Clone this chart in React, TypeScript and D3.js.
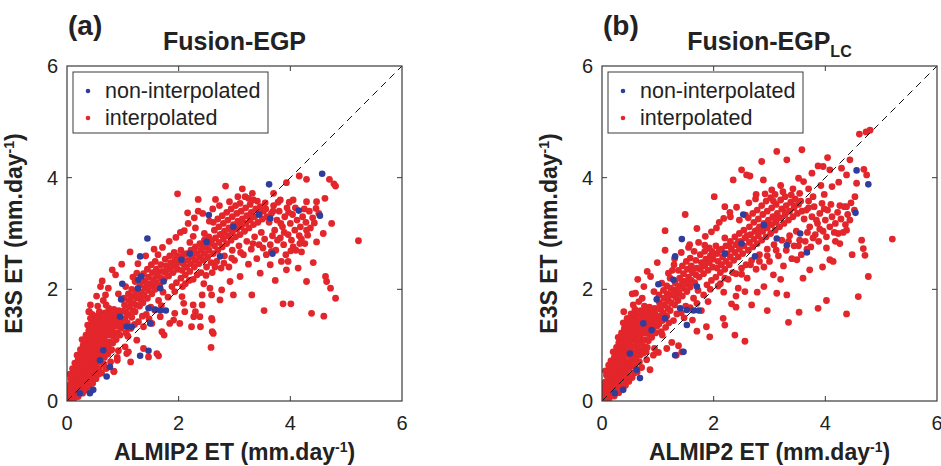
import React from "react";
import * as d3 from "d3";

type P = [number, number];

const ticks = [0, 2, 4, 6];
const innerTicks = [2, 4];
const titles = ["Fusion-EGP", "Fusion-EGP"];
const titleSubs = ["", "LC"];
const panelLabels = ["(a)", "(b)"];
const legendLabels = ["non-interpolated", "interpolated"];
const xLabel = "ALMIP2 ET (mm.day";
const yLabel = "E3S ET (mm.day";

const redA: P[] = [
  [0.02,0.03],[0.04,0.08],[0.05,0.15],[0.03,0.22],[0.06,0.30],[0.08,0.05],[0.10,0.12],[0.09,0.20],[0.11,0.28],[0.12,0.36],[0.07,0.40],[0.05,0.48],[0.14,0.08],[0.15,0.18],[0.16,0.26],[0.18,0.34],[0.15,0.44],[0.13,0.52],[0.10,0.58],[0.19,0.12],[0.20,0.22],[0.22,0.30],[0.21,0.40],[0.19,0.50],[0.17,0.60],[0.14,0.68],[0.24,0.16],[0.26,0.26],[0.25,0.36],[0.27,0.46],[0.24,0.56],[0.22,0.66],[0.20,0.74],[0.18,0.82],[0.29,0.20],[0.31,0.32],[0.30,0.42],[0.32,0.52],[0.30,0.62],[0.28,0.72],[0.26,0.82],[0.24,0.92],[0.35,0.28],[0.36,0.40],[0.38,0.50],[0.36,0.60],[0.35,0.70],[0.33,0.80],[0.31,0.90],[0.29,1.00],[0.27,1.10],[0.41,0.36],[0.42,0.48],[0.44,0.58],[0.42,0.68],[0.40,0.78],[0.39,0.88],[0.37,0.98],[0.35,1.08],[0.34,1.18],[0.46,0.44],[0.48,0.56],[0.47,0.66],[0.49,0.76],[0.46,0.86],[0.45,0.96],[0.43,1.06],[0.41,1.16],[0.39,1.26],[0.37,1.36],
  [0.12,0.04],[0.20,0.08],[0.28,0.14],[0.34,0.20],[0.40,0.26],[0.46,0.32],[0.52,0.40],[0.56,0.48],
  [0.52,0.62],[0.54,0.72],[0.55,0.84],[0.53,0.94],[0.51,1.04],[0.50,1.14],[0.48,1.24],[0.46,1.34],[0.44,1.44],[0.58,0.58],[0.60,0.70],[0.61,0.80],[0.62,0.92],[0.60,1.02],[0.58,1.12],[0.57,1.22],[0.55,1.32],[0.53,1.42],[0.51,1.52],[0.66,0.66],[0.67,0.78],[0.68,0.88],[0.69,1.00],[0.67,1.10],[0.66,1.20],[0.64,1.30],[0.62,1.40],[0.60,1.50],[0.58,1.60],[0.73,0.84],[0.74,0.96],[0.76,1.06],[0.75,1.18],[0.73,1.28],[0.71,1.38],[0.70,1.48],[0.68,1.58],[0.80,0.92],[0.82,1.04],[0.83,1.16],[0.81,1.26],[0.80,1.36],[0.78,1.46],[0.77,1.56],[0.75,1.66],[0.88,1.10],[0.90,1.22],[0.89,1.34],[0.87,1.44],[0.86,1.54],[0.84,1.64],[0.95,1.18],[0.97,1.30],[0.96,1.42],[0.94,1.52],[0.93,1.62],[0.40,1.60],[0.42,1.72],[0.45,1.55],[0.60,2.05],[0.69,1.90],[0.39,1.60],[0.42,1.48],[0.81,2.35],[0.87,2.26],[0.70,1.72],[0.65,1.80],[0.55,1.70],
  [0.62,0.50],[0.70,0.58],[0.78,0.70],[0.84,0.53],[0.90,0.78],[0.78,0.91],[0.92,0.90],
  [1.02,1.35],[1.04,1.48],[1.05,1.60],[1.03,1.72],[1.02,1.84],[1.08,1.40],[1.10,1.55],[1.12,1.68],[1.11,1.80],[1.10,1.92],[1.16,1.50],[1.18,1.62],[1.19,1.75],[1.17,1.88],[1.16,2.00],[1.22,1.60],[1.24,1.72],[1.25,1.85],[1.23,1.97],[1.25,2.29],[1.22,2.14],[1.30,1.70],[1.32,1.82],[1.33,1.95],[1.31,2.08],[1.36,1.76],[1.38,1.90],[1.40,2.02],[1.39,2.15],[1.37,2.28],[1.44,1.84],[1.46,1.98],[1.48,2.10],[1.46,2.22],[1.44,2.36],[1.52,1.92],[1.54,2.06],[1.55,2.18],[1.53,2.30],[1.51,2.44],[1.58,2.00],[1.60,2.12],[1.62,2.24],[1.60,2.36],[1.58,2.50],[1.66,2.08],[1.68,2.20],[1.70,2.32],[1.68,2.44],[1.74,2.18],[1.76,2.30],[1.78,2.42],[1.76,2.54],[1.82,2.24],[1.84,2.36],[1.86,2.48],[1.84,2.60],[1.90,2.30],[1.92,2.42],[1.94,2.54],[1.92,2.66],[1.98,2.36],[1.99,2.48],[1.97,2.60],[1.13,2.67],[1.06,1.22],[1.14,1.30],[1.28,1.42],[1.42,1.55],[1.50,1.68],[1.64,1.80],[1.72,1.95],[1.88,2.05],[1.96,2.12],
  [2.04,2.20],[2.06,2.34],[2.08,2.46],[2.06,2.58],[2.04,2.70],[2.12,2.26],[2.14,2.40],[2.16,2.52],[2.14,2.64],[2.20,2.32],[2.22,2.46],[2.24,2.58],[2.22,2.70],[2.20,2.84],[2.28,2.40],[2.30,2.52],[2.32,2.64],[2.30,2.76],[2.36,2.46],[2.38,2.58],[2.40,2.70],[2.38,2.82],[2.44,2.52],[2.46,2.64],[2.48,2.76],[2.46,2.88],[2.52,2.58],[2.54,2.70],[2.56,2.82],[2.54,2.94],[2.12,2.10],[2.26,2.18],[2.40,2.30],[2.50,2.40],[2.16,3.37],[2.35,3.40],[2.10,3.05],[2.30,3.10],[2.46,3.00],[2.26,2.95],[2.58,2.48],[2.60,2.30],[2.45,2.10],[2.56,2.02],[2.42,1.90],
  [2.62,2.64],[2.64,2.78],[2.66,2.92],[2.64,3.06],[2.62,3.20],[2.70,2.70],[2.72,2.84],[2.74,2.98],[2.72,3.12],[2.70,3.26],[2.78,2.76],[2.80,2.90],[2.82,3.04],[2.80,3.18],[2.78,3.32],[2.86,2.82],[2.88,2.96],[2.90,3.10],[2.88,3.24],[2.86,3.38],[2.94,2.88],[2.96,3.02],[2.98,3.16],[2.96,3.30],[2.94,3.44],[3.02,2.94],[3.04,3.08],[3.06,3.22],[3.04,3.36],[3.02,3.50],[3.10,2.98],[3.12,3.12],[3.14,3.26],[3.12,3.40],[3.10,3.54],[3.18,3.04],[3.20,3.18],[3.22,3.32],[3.20,3.46],[3.26,3.10],[3.28,3.24],[3.30,3.38],[3.28,3.52],[3.34,3.16],[3.36,3.30],[3.38,3.44],[3.42,3.20],[3.44,3.34],[3.46,3.48],[3.50,3.26],[3.52,3.40],[3.58,3.30],[3.56,3.44],[2.68,2.50],[2.82,2.60],[2.96,2.70],[3.08,2.78],[3.22,2.86],[3.36,2.94],[3.48,3.02],[2.76,2.38],[3.00,2.52],[3.16,2.62],[3.30,2.72],[3.44,2.80],[3.54,2.90],[2.90,2.40],[3.40,2.55],[3.25,2.45],[3.57,2.62],
  [3.62,3.20],[3.66,3.36],[3.70,3.50],[3.72,3.06],[3.76,3.24],[3.80,3.40],[3.82,2.92],[3.86,3.12],[3.90,3.30],[3.94,3.46],[3.96,2.98],[4.00,3.18],[4.04,3.34],[4.08,3.06],[4.12,3.24],[4.18,3.12],[4.22,3.30],[4.28,3.20],[4.34,3.40],[4.40,3.28],[3.64,2.80],[3.74,2.70],[3.88,2.80],[4.02,2.88],[3.68,2.96],[4.16,2.96],[3.78,3.56],[3.98,3.56],[4.36,3.10],[4.46,3.45],[3.92,2.62],[4.10,2.70],[3.84,2.50],[4.20,2.90],
  [4.16,4.03],[4.29,3.97],[4.70,3.97],[4.78,3.89],[4.81,3.85],[3.93,3.91],[2.84,3.85],[3.14,3.80],[3.32,3.72],[3.19,3.66],[3.34,3.60],[1.98,3.71],[2.35,3.61],[2.66,3.61],[3.70,3.72],[3.82,3.60],[4.05,3.60],[4.29,3.57],[4.47,3.57],[4.62,3.63],
  [5.22,2.87],[4.63,2.23],[4.65,2.14],[4.72,2.02],[4.81,1.84],[4.29,2.14],[3.73,2.16],[3.53,1.62],[3.87,1.74],[4.01,1.74],[4.38,1.57],[4.60,1.52],[3.31,1.90],[3.93,2.35],[4.14,2.38],[4.41,2.48],[4.20,2.67],[4.26,2.82],[4.05,2.76],[4.47,2.85],[4.59,3.00],[4.74,3.18],[4.29,3.06],[3.96,2.50],[3.64,2.44],[3.46,2.29],[3.10,2.23],[2.92,2.14],[2.77,1.99],[2.98,1.90],[2.59,1.90],[2.74,1.81],[2.26,1.72],[2.11,1.60],[2.59,1.48],[2.38,1.51],[2.23,1.33],[2.02,1.39],[2.62,1.21],[2.58,0.96],[1.84,1.39],[1.93,1.57],[1.67,1.51],[1.74,1.18],[1.64,0.81],[1.14,0.70],[1.37,1.33],[1.52,1.39],[1.25,1.09],[1.07,0.85],[1.04,0.97],[1.37,0.94],[1.61,0.85],[1.46,0.79],[1.70,1.24],[1.91,1.45],[2.06,1.87],[2.09,1.75],[2.27,1.51],[2.30,1.60],[2.39,1.33],[2.60,1.45],[2.60,1.24],[2.42,1.72],[0.84,0.53],[1.10,0.88],[0.90,0.73],[0.78,0.91],
  [1.05,2.05],[1.18,2.22],[1.27,2.46],[1.41,2.60],[1.56,2.72],[1.63,2.62],[1.71,2.75],[1.83,2.86],[1.95,2.93],[2.03,3.02],[2.17,3.18],[2.28,3.28],[2.43,3.36],[2.55,3.22],[2.61,3.44],[2.73,3.50],[2.91,3.57],[3.06,3.66],[3.25,3.63],[3.41,3.58],[3.55,3.55],[1.09,1.16],[1.21,1.37],[1.35,1.52],[1.47,1.47],[1.57,1.63],[1.69,1.71],[1.81,1.86],[1.93,1.96],[2.07,2.05],[2.19,2.16],[2.33,2.26],[2.49,2.25],[2.65,2.40],[2.81,2.47],[2.95,2.56],[3.11,2.66],[3.33,2.82],[3.51,2.74],[3.66,2.68],[3.77,2.88],[3.89,3.02],[4.01,2.69],[4.17,2.82],[4.31,2.97],[4.43,3.19],[4.51,3.36],[3.69,3.40],[3.83,3.18],[3.97,3.38],[4.09,3.46],[4.25,3.44],[1.01,1.61],[1.14,1.79],[1.27,1.87],[1.43,2.09],[1.61,2.29],[1.79,2.39],[1.97,2.51],[2.09,2.63],[2.27,2.71],[2.43,2.77],[2.59,2.87],[2.77,2.99],[2.93,3.07],[3.09,3.17],[3.27,3.29],[3.43,3.41],[0.53,1.88],[0.63,2.15],[0.74,2.02],[0.92,1.92],[0.98,2.45],[0.77,1.28],[0.64,1.12]
];

const blueA: P[] = [
  [4.57,4.07],[3.62,3.88],[2.54,3.33],[3.44,3.34],[3.64,3.27],[4.15,3.41],[4.53,3.32],[3.68,2.64],[2.98,3.12],[2.74,2.59],[2.50,2.85],[2.20,2.64],[2.05,2.53],[1.44,2.91],[1.31,2.59],[1.33,2.23],[1.28,2.17],[0.99,2.10],[0.97,1.82],[1.27,2.02],[1.67,2.02],[1.73,2.14],[1.46,1.66],[1.58,1.64],[1.67,1.62],[1.77,1.62],[0.95,1.51],[1.07,1.33],[1.16,1.33],[1.31,0.81],[1.46,0.90],[1.49,1.39],[0.77,0.61],[0.71,0.44],[0.59,0.73],[0.47,0.20],[0.41,0.14],[0.23,0.14],[0.65,0.91]
];

const redB: P[] = [
  [0.02,0.04],[0.04,0.10],[0.03,0.18],[0.05,0.26],[0.06,0.34],[0.09,0.06],[0.10,0.14],[0.11,0.22],[0.10,0.31],[0.12,0.40],[0.08,0.46],[0.06,0.54],[0.15,0.10],[0.16,0.20],[0.17,0.29],[0.18,0.38],[0.16,0.47],[0.14,0.56],[0.12,0.64],[0.21,0.14],[0.22,0.24],[0.23,0.33],[0.22,0.43],[0.20,0.53],[0.18,0.63],[0.16,0.72],[0.26,0.18],[0.27,0.28],[0.26,0.38],[0.28,0.48],[0.26,0.58],[0.24,0.68],[0.22,0.78],[0.20,0.88],[0.31,0.22],[0.32,0.34],[0.31,0.45],[0.33,0.55],[0.31,0.65],[0.29,0.75],[0.28,0.86],[0.26,0.96],[0.36,0.30],[0.37,0.42],[0.39,0.52],[0.37,0.62],[0.36,0.73],[0.34,0.84],[0.32,0.94],[0.30,1.04],[0.29,1.14],[0.42,0.38],[0.43,0.50],[0.45,0.60],[0.43,0.70],[0.41,0.81],[0.40,0.92],[0.38,1.02],[0.36,1.12],[0.35,1.22],[0.47,0.46],[0.49,0.58],[0.48,0.69],[0.50,0.80],[0.47,0.90],[0.46,1.00],[0.44,1.10],[0.42,1.20],[0.40,1.30],[0.38,1.40],[0.13,0.05],[0.22,0.09],[0.30,0.15],[0.36,0.22],[0.42,0.28],[0.48,0.35],[0.54,0.42],[0.58,0.50],
  [0.53,0.64],[0.55,0.75],[0.56,0.86],[0.54,0.97],[0.52,1.08],[0.51,1.18],[0.49,1.28],[0.47,1.38],[0.45,1.48],[0.59,0.62],[0.61,0.73],[0.62,0.84],[0.63,0.95],[0.61,1.06],[0.59,1.16],[0.58,1.26],[0.56,1.36],[0.54,1.46],[0.52,1.56],[0.67,0.70],[0.68,0.82],[0.69,0.92],[0.70,1.04],[0.68,1.14],[0.67,1.24],[0.65,1.34],[0.63,1.44],[0.61,1.54],[0.59,1.64],[0.74,0.86],[0.75,0.98],[0.77,1.10],[0.76,1.22],[0.74,1.32],[0.72,1.42],[0.71,1.52],[0.69,1.62],[0.81,0.96],[0.83,1.08],[0.84,1.20],[0.82,1.30],[0.81,1.40],[0.79,1.50],[0.78,1.60],[0.76,1.70],[0.89,1.14],[0.91,1.26],[0.90,1.38],[0.88,1.48],[0.87,1.58],[0.85,1.68],[0.96,1.22],[0.98,1.34],[0.97,1.46],[0.95,1.56],[0.94,1.66],[0.39,1.60],[0.36,1.12],[0.60,1.93],[0.81,2.32],[0.87,2.23],[0.66,1.78],[0.72,1.84],[0.56,1.72],[0.63,0.52],[0.71,0.60],[0.80,0.74],[0.86,0.56],[0.92,0.82],[0.79,0.88],[0.94,0.94],
  [1.02,1.38],[1.04,1.52],[1.05,1.64],[1.03,1.76],[1.02,1.90],[1.08,1.44],[1.10,1.58],[1.12,1.72],[1.11,1.84],[1.10,1.98],[1.16,1.52],[1.18,1.66],[1.19,1.80],[1.17,1.92],[1.16,2.06],[1.22,1.62],[1.24,1.76],[1.25,1.90],[1.23,2.02],[1.26,2.34],[1.22,2.20],[1.30,1.72],[1.32,1.86],[1.33,2.00],[1.31,2.12],[1.36,1.80],[1.38,1.94],[1.40,2.06],[1.39,2.20],[1.37,2.34],[1.44,1.88],[1.46,2.02],[1.48,2.14],[1.46,2.28],[1.44,2.42],[1.52,1.96],[1.54,2.10],[1.55,2.22],[1.53,2.36],[1.51,2.50],[1.58,2.04],[1.60,2.16],[1.62,2.30],[1.60,2.42],[1.58,2.56],[1.66,2.12],[1.68,2.26],[1.70,2.38],[1.68,2.52],[1.74,2.22],[1.76,2.36],[1.78,2.48],[1.76,2.62],[1.82,2.28],[1.84,2.42],[1.86,2.54],[1.84,2.68],[1.90,2.34],[1.92,2.48],[1.94,2.60],[1.92,2.74],[1.98,2.40],[1.99,2.54],[1.97,2.68],[1.13,2.70],[1.06,1.24],[1.14,1.32],[1.28,1.44],[1.42,1.58],[1.50,1.70],[1.64,1.84],[1.72,1.98],[1.88,2.08],[1.96,2.16],[1.49,3.34],[1.13,3.05],[1.70,3.09],[1.84,2.79],[1.30,2.55],[1.55,2.75],[1.62,1.45],[1.78,1.62],[1.90,1.78],[1.70,1.25],[1.25,1.05],
  [2.04,2.22],[2.06,2.38],[2.08,2.50],[2.06,2.64],[2.04,2.78],[2.12,2.30],[2.14,2.44],[2.16,2.58],[2.14,2.72],[2.20,2.36],[2.22,2.50],[2.24,2.64],[2.22,2.78],[2.20,2.92],[2.28,2.44],[2.30,2.58],[2.32,2.72],[2.30,2.86],[2.36,2.52],[2.38,2.66],[2.40,2.80],[2.38,2.94],[2.44,2.58],[2.46,2.72],[2.48,2.86],[2.46,3.00],[2.52,2.64],[2.54,2.78],[2.56,2.92],[2.54,3.06],[2.12,2.10],[2.26,2.18],[2.40,2.28],[2.50,2.38],[2.01,3.66],[2.35,3.96],[2.50,4.14],[2.59,4.05],[2.10,3.20],[2.30,3.30],[2.46,3.24],[2.20,3.48],[2.58,2.44],[2.60,2.20],[2.44,2.02],[2.56,1.96],[2.40,1.88],[2.18,1.95],[2.32,1.74],
  [2.62,2.70],[2.64,2.84],[2.66,2.98],[2.64,3.12],[2.62,3.28],[2.70,2.76],[2.72,2.90],[2.74,3.04],[2.72,3.20],[2.70,3.36],[2.78,2.82],[2.80,2.96],[2.82,3.12],[2.80,3.26],[2.78,3.42],[2.86,2.88],[2.88,3.04],[2.90,3.18],[2.88,3.34],[2.86,3.50],[2.94,2.94],[2.96,3.10],[2.98,3.24],[2.96,3.40],[2.94,3.58],[3.02,3.00],[3.04,3.16],[3.06,3.30],[3.04,3.46],[3.02,3.64],[3.10,3.06],[3.12,3.20],[3.14,3.36],[3.12,3.52],[3.10,3.70],[3.18,3.12],[3.20,3.28],[3.22,3.44],[3.20,3.60],[3.26,3.18],[3.28,3.34],[3.30,3.50],[3.28,3.66],[3.34,3.24],[3.36,3.40],[3.38,3.56],[3.42,3.30],[3.44,3.46],[3.46,3.62],[3.50,3.36],[3.52,3.52],[3.58,3.40],[3.56,3.58],[2.68,2.52],[2.82,2.62],[2.96,2.72],[3.08,2.80],[3.22,2.88],[3.36,2.96],[3.48,3.04],[2.76,2.36],[3.00,2.50],[3.16,2.60],[3.30,2.70],[3.44,2.78],[3.54,2.88],[2.90,2.40],[3.40,2.55],[3.25,2.42],[3.57,2.62],[2.86,4.29],[3.13,4.47],[3.31,4.32],[2.89,3.96],[3.04,3.78],[2.65,4.03],[3.58,4.50],[3.52,3.99],[3.61,3.93],[3.20,3.86],[3.42,3.80],[2.76,3.70],
  [3.62,3.26],[3.66,3.42],[3.70,3.58],[3.72,3.12],[3.76,3.30],[3.80,3.48],[3.82,2.98],[3.86,3.18],[3.90,3.36],[3.94,3.54],[3.96,3.04],[4.00,3.24],[4.04,3.42],[4.08,3.12],[4.12,3.30],[4.18,3.18],[4.22,3.38],[4.28,3.26],[4.34,3.48],[4.40,3.34],[3.64,2.86],[3.74,2.76],[3.88,2.86],[4.02,2.94],[3.68,3.02],[4.16,3.02],[3.78,3.66],[3.98,3.70],[4.36,3.16],[4.46,3.55],[3.76,4.08],[3.96,4.20],[4.08,4.14],[4.04,4.36],[3.87,4.21],[4.44,4.32],[4.29,4.17],[4.38,4.05],[4.69,4.15],[4.74,4.05],[4.56,3.90],[4.53,3.66],[4.38,3.48],[4.61,4.78],[4.73,4.82],[4.80,4.85],[4.12,3.84],[4.24,3.92],[3.92,3.86],[3.70,3.80],
  [5.20,2.90],[4.77,2.23],[4.68,2.73],[4.71,2.61],[4.59,1.87],[4.38,1.56],[4.02,1.80],[3.87,1.66],[3.53,1.59],[3.34,1.41],[3.13,1.93],[3.31,1.90],[3.07,2.26],[3.49,2.53],[3.72,2.35],[4.08,2.53],[4.14,2.50],[4.26,2.82],[4.38,3.06],[4.23,3.00],[4.65,2.88],[2.40,1.68],[2.68,1.72],[2.17,1.48],[2.20,1.36],[2.38,1.18],[2.56,1.07],[1.87,1.33],[1.93,1.15],[1.37,0.99],[1.43,0.88],[1.33,0.82],[1.16,0.94],[1.01,0.87],[2.90,2.05],[2.78,1.95],[3.60,2.20],[3.95,2.40],[4.48,2.62],[3.20,2.18],[2.96,1.62],
  [1.07,2.11],[1.19,2.29],[1.29,2.44],[1.42,2.66],[1.57,2.80],[1.65,2.68],[1.73,2.84],[1.85,2.95],[1.96,3.03],[2.05,3.10],[2.18,3.27],[2.29,3.38],[2.41,3.47],[2.57,3.33],[2.63,3.55],[2.75,3.62],[2.92,3.71],[3.07,3.58],[3.24,3.75],[3.39,3.69],[3.54,3.72],[1.08,1.18],[1.20,1.40],[1.34,1.56],[1.47,1.49],[1.58,1.67],[1.70,1.75],[1.82,1.90],[1.94,2.00],[2.08,2.06],[2.20,2.20],[2.34,2.30],[2.50,2.27],[2.66,2.44],[2.82,2.50],[2.96,2.60],[3.12,2.70],[3.34,2.86],[3.52,2.78],[3.67,2.72],[3.78,2.92],[3.90,3.08],[4.02,2.74],[4.18,2.86],[4.32,3.02],[4.44,3.24],[4.52,3.42],[3.70,3.46],[3.84,3.24],[3.98,3.44],[4.10,3.52],[4.26,3.50],[1.01,1.66],[1.15,1.84],[1.28,1.93],[1.44,2.15],[1.62,2.35],[1.80,2.46],[1.98,2.58],[2.10,2.70],[2.28,2.78],[2.44,2.85],[2.60,2.96],[2.78,3.06],[2.94,3.16],[3.10,3.26],[3.28,3.38],[3.44,3.50],[0.54,1.92],[0.64,2.18],[0.75,2.05],[0.93,1.96],[0.99,2.48],[0.78,1.30],[0.65,1.14]
];

const blueB: P[] = [
  [4.56,4.13],[4.77,3.88],[4.54,3.37],[2.53,3.34],[2.90,3.15],[2.50,2.82],[2.20,2.64],[2.74,2.59],[3.13,2.91],[3.67,2.66],[3.55,3.00],[3.31,2.79],[1.43,2.90],[1.31,2.59],[1.28,2.17],[1.70,2.05],[1.01,2.09],[0.98,1.82],[1.40,1.66],[1.52,1.63],[1.64,1.62],[1.73,1.62],[1.13,1.48],[1.52,1.36],[1.31,0.82],[1.46,0.88],[0.68,0.41],[0.62,0.56],[0.50,0.85],[0.38,0.20],[0.23,0.14],[0.74,1.39],[0.89,1.27]
];

const RED = "#e3262b";
const BLUE = "#2f3d9c";
const AXIS = "#3a3a3a";
const FONT = "'Liberation Sans', Arial, sans-serif";

const panelData = [
  { red: redA, blue: blueA },
  { red: redB, blue: blueB },
];

const plotLefts = [67, 602];
const plotTop = 66;
const plotSize = 335;

function Panel({ idx }: { idx: number }) {
  const left = plotLefts[idx];
  const x = d3.scaleLinear().domain([0, 6]).range([left, left + plotSize]);
  const y = d3.scaleLinear().domain([0, 6]).range([plotTop + plotSize, plotTop]);
  const { red, blue } = panelData[idx];
  const cx = (left + left + plotSize) / 2;
  const clipId = `clip${idx}`;
  const legX = left + 6;
  const legY = 72;
  return (
    <g>
      <defs>
        <clipPath id={clipId}>
          <rect x={left} y={plotTop} width={plotSize} height={plotSize} />
        </clipPath>
      </defs>
      <g clipPath={`url(#${clipId})`}>
        {red.map((d, i) => (
          <circle key={"r" + i} cx={x(d[0])} cy={y(d[1])} r={3.4} fill={RED} />
        ))}
        {blue.map((d, i) => (
          <circle key={"b" + i} cx={x(d[0])} cy={y(d[1])} r={3.3} fill={BLUE} />
        ))}
        <line x1={x(0)} y1={y(0)} x2={x(6)} y2={y(6)} stroke="#111" strokeWidth={1} strokeDasharray="7,5" />
      </g>
      <rect x={left} y={plotTop} width={plotSize} height={plotSize} fill="none" stroke={AXIS} strokeWidth={1.2} />
      {innerTicks.map((t) => (
        <g key={"t" + t} stroke={AXIS} strokeWidth={1}>
          <line x1={x(t)} x2={x(t)} y1={plotTop + plotSize} y2={plotTop + plotSize - 5} />
          <line x1={x(t)} x2={x(t)} y1={plotTop} y2={plotTop + 5} />
          <line y1={y(t)} y2={y(t)} x1={left} x2={left + 5} />
          <line y1={y(t)} y2={y(t)} x1={left + plotSize} x2={left + plotSize - 5} />
        </g>
      ))}
      {ticks.map((t) => (
        <text key={"xl" + t} x={x(t)} y={plotTop + plotSize + 29} textAnchor="middle" fontSize={20} fontFamily={FONT} fill="#222">
          {t}
        </text>
      ))}
      {ticks.map((t) => (
        <text key={"yl" + t} x={left - 9} y={y(t) + 7} textAnchor="end" fontSize={20} fontFamily={FONT} fill="#222">
          {t}
        </text>
      ))}
      <text x={cx} y={460} textAnchor="middle" fontSize={23} fontWeight="bold" fontFamily={FONT} fill="#222">
        {xLabel}
        <tspan dy={-8} fontSize={14}>-1</tspan>
        <tspan dy={8}>)</tspan>
      </text>
      <text transform={`translate(${left - 45},${plotTop + plotSize / 2}) rotate(-90)`} textAnchor="middle" fontSize={23} fontWeight="bold" fontFamily={FONT} fill="#222">
        {yLabel}
        <tspan dy={-8} fontSize={14}>-1</tspan>
        <tspan dy={8}>)</tspan>
      </text>
      <text x={left + 1} y={35} fontSize={28} fontWeight="bold" fontFamily={FONT} fill="#222">
        {panelLabels[idx]}
      </text>
      <text x={cx} y={50} textAnchor="middle" fontSize={25} fontWeight="bold" fontFamily={FONT} fill="#222">
        {titles[idx]}
        {titleSubs[idx] ? <tspan dy={7} fontSize={16}>{titleSubs[idx]}</tspan> : null}
      </text>
      <rect x={legX} y={legY} width={195} height={61} fill="#fff" stroke={AXIS} strokeWidth={1} />
      {legendLabels.map((lab, i) => (
        <g key={lab}>
          <circle cx={legX + 15} cy={legY + 19 + i * 27} r={2.3} fill={i === 0 ? BLUE : RED} />
          <text x={legX + 32} y={legY + 26 + i * 27} fontSize={21.5} fontFamily={FONT} fill="#222">
            {lab}
          </text>
        </g>
      ))}
    </g>
  );
}

export default function App() {
  return (
    <svg width={941} height={466} style={{ position: "absolute", left: 0, top: 0, background: "#fff" }}>
      <rect width={941} height={466} fill="#fff" />
      <Panel idx={0} />
      <Panel idx={1} />
    </svg>
  );
}
